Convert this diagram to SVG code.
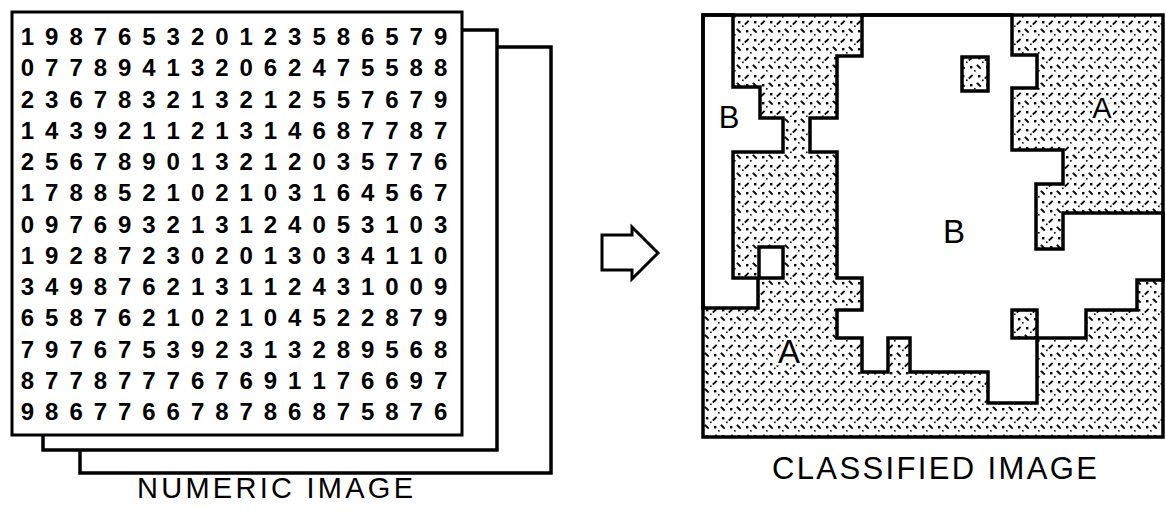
<svg xmlns="http://www.w3.org/2000/svg" width="1166" height="512" viewBox="0 0 1166 512">
  <style>
    .sheet { fill: #fff; stroke: #000; stroke-width: 3; }
    .edge { fill: none; stroke: #000; stroke-width: 3.5; stroke-linejoin: miter; }
    .digits { font-family: "Liberation Sans", Arial, sans-serif; font-size: 24px; font-weight: bold; fill: #000; text-anchor: middle; }
    .caption { font-family: "Liberation Sans", Arial, sans-serif; fill: #000; }
    .zone { stroke: #000; stroke-width: 3.5; stroke-linejoin: miter; }
    .clear { fill: #fff; }
    .shaded { fill: url(#stipple); }
    .mark { font-family: "Liberation Sans", Arial, sans-serif; fill: #000; text-anchor: middle; }
    .halo { stroke: #fff; stroke-width: 5; paint-order: stroke; stroke-linejoin: round; }
    .dot { fill: #000; }
    .tick { stroke: #000; stroke-width: 1.9; stroke-linecap: square; }
  </style>
  <defs>
    <!-- dithered dot texture used for class A: an 8 x 9 grid of dots and short ticks -->
    <pattern id="stipple" width="16" height="18" patternUnits="userSpaceOnUse">
      <rect width="16" height="18" fill="#fff"/>
      <rect class="dot" x="2" y="3" width="2.4" height="2.4"/>
      <path class="tick" d="M9.5 6 l2.5 -2.5"/>
      <path class="tick" d="M1.5 11.5 l2.5 2.5"/>
      <rect class="dot" x="10" y="12" width="2.4" height="2.4"/>
      <rect class="dot" x="6" y="7.5" width="1.6" height="1.6"/>
      <rect class="dot" x="14" y="16" width="1.6" height="1.6"/>
    </pattern>
  </defs>

  <rect width="1166" height="512" fill="#fff"/>

  <!-- stack of numeric image sheets -->
  <g id="numeric-image">
    <path class="edge" d="M497 47 H551 V473 H80 V450"/>
    <path class="edge" d="M462 30 H497 V450 H43 V435"/>
    <rect class="sheet" x="12" y="12" width="450" height="423"/>
    <g class="digits">
      <text y="45" x="27.5 51.8 76.1 100.4 124.7 149 173.3 197.6 221.9 246.2 270.5 294.8 319.1 343.4 367.7 392 416.3 440.6">198765320123586579</text>
      <text y="76.25" x="27.5 51.8 76.1 100.4 124.7 149 173.3 197.6 221.9 246.2 270.5 294.8 319.1 343.4 367.7 392 416.3 440.6">077894132062475588</text>
      <text y="107.5" x="27.5 51.8 76.1 100.4 124.7 149 173.3 197.6 221.9 246.2 270.5 294.8 319.1 343.4 367.7 392 416.3 440.6">236783213212557679</text>
      <text y="138.75" x="27.5 51.8 76.1 100.4 124.7 149 173.3 197.6 221.9 246.2 270.5 294.8 319.1 343.4 367.7 392 416.3 440.6">143921121314687787</text>
      <text y="170" x="27.5 51.8 76.1 100.4 124.7 149 173.3 197.6 221.9 246.2 270.5 294.8 319.1 343.4 367.7 392 416.3 440.6">256789013212035776</text>
      <text y="201.25" x="27.5 51.8 76.1 100.4 124.7 149 173.3 197.6 221.9 246.2 270.5 294.8 319.1 343.4 367.7 392 416.3 440.6">178852102103164567</text>
      <text y="232.5" x="27.5 51.8 76.1 100.4 124.7 149 173.3 197.6 221.9 246.2 270.5 294.8 319.1 343.4 367.7 392 416.3 440.6">097693213124053103</text>
      <text y="263.75" x="27.5 51.8 76.1 100.4 124.7 149 173.3 197.6 221.9 246.2 270.5 294.8 319.1 343.4 367.7 392 416.3 440.6">192872302013034110</text>
      <text y="295" x="27.5 51.8 76.1 100.4 124.7 149 173.3 197.6 221.9 246.2 270.5 294.8 319.1 343.4 367.7 392 416.3 440.6">349876213112431009</text>
      <text y="326.25" x="27.5 51.8 76.1 100.4 124.7 149 173.3 197.6 221.9 246.2 270.5 294.8 319.1 343.4 367.7 392 416.3 440.6">658762102104522879</text>
      <text y="357.5" x="27.5 51.8 76.1 100.4 124.7 149 173.3 197.6 221.9 246.2 270.5 294.8 319.1 343.4 367.7 392 416.3 440.6">797675392313289568</text>
      <text y="388.75" x="27.5 51.8 76.1 100.4 124.7 149 173.3 197.6 221.9 246.2 270.5 294.8 319.1 343.4 367.7 392 416.3 440.6">877877767691176697</text>
      <text y="420" x="27.5 51.8 76.1 100.4 124.7 149 173.3 197.6 221.9 246.2 270.5 294.8 319.1 343.4 367.7 392 416.3 440.6">986776678786875876</text>
    </g>
    <text class="caption" x="137" y="498" font-size="29" textLength="276" lengthAdjust="spacing">NUMERIC IMAGE</text>
  </g>

  <!-- block arrow between the two panels -->
  <g id="connectors">
    <polygon points="602,235 632,235 632,227 658,253 632,279 632,270 602,270" fill="#fff" stroke="#000" stroke-width="3" stroke-linejoin="miter"/>
  </g>

  <!-- classified map: class A is stippled, class B is clear -->
  <g id="classified-image">
    <rect class="shaded" x="703" y="15" width="460" height="422"/>
    <polygon class="zone clear" points="703,15 733,15 733,87 760,87 760,118 783,118 783,152 733,152 733,278 758,278 758,308 703,308"/>
    <polygon class="zone clear" points="862,15 1012,15 1012,55 1037,55 1037,88 1012,88 1012,150 1063,150 1063,184 1036,184 1036,249 1063,249 1063,213 1163,213 1163,280 1137,280 1137,310 1086,310 1086,338 1037,338 1037,403 988,403 988,372 910,372 910,338 888,338 888,372 862,372 862,338 837,338 837,310 862,310 862,278 837,278 837,152 810,152 810,118 837,118 837,56 862,56"/>
    <rect class="zone clear" x="759" y="247" width="24" height="31"/>
    <rect class="zone shaded" x="962" y="57" width="26" height="34"/>
    <rect class="zone shaded" x="1012" y="310" width="25" height="28"/>
    <rect x="703" y="15" width="460" height="422" fill="none" stroke="#000" stroke-width="3.5"/>
    <text class="mark" x="729" y="128" font-size="31">B</text>
    <text class="mark" x="954" y="243" font-size="33">B</text>
    <text class="mark halo" x="1102" y="118" font-size="29">A</text>
    <text class="mark halo" x="789" y="363" font-size="33">A</text>
    <text class="caption" x="772" y="479" font-size="31" textLength="325" lengthAdjust="spacing">CLASSIFIED IMAGE</text>
  </g>
</svg>
